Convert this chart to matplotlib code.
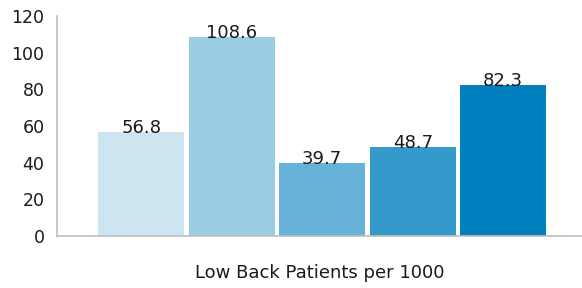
import numpy as np
import matplotlib.pyplot as plt

categories = ["A", "B", "C", "D", "E"]
values = [56.8, 108.6, 39.7, 48.7, 82.3]
colors = ["#CDE5F1", "#9ACCE4", "#66B2D8", "#3499CB", "#0080BE"]
y_ticks = [0, 20, 40, 60, 80, 100, 120]

fig = plt.figure(figsize=(5.82, 2.88), dpi=100)
ax = fig.add_axes([0.098, 0.181, 0.902, 0.764])

x = np.arange(len(values))
bars = ax.bar(x, values, width=0.95, color=colors)

for xi, v in zip(x, values):
    ax.text(xi, v - 0.6, f"{v}", ha="center", va="baseline", fontsize=13, color="#1a1a1a")

ax.set_xlim(-0.93, 4.87)
ax.set_ylim(0, 120)
ax.set_yticks(y_ticks)
ax.set_xticks([])
ax.tick_params(axis="y", length=0, pad=9, labelsize=12.5, labelcolor="#1a1a1a")

for s in ["top", "right"]:
    ax.spines[s].set_visible(False)
for s in ["left", "bottom"]:
    ax.spines[s].set_color("#BFBFBF")
    ax.spines[s].set_linewidth(1.2)

ax.set_xlabel("Low Back Patients per 1000", fontsize=13, color="#1a1a1a", labelpad=20)

fig.savefig("out.png", dpi=100)
